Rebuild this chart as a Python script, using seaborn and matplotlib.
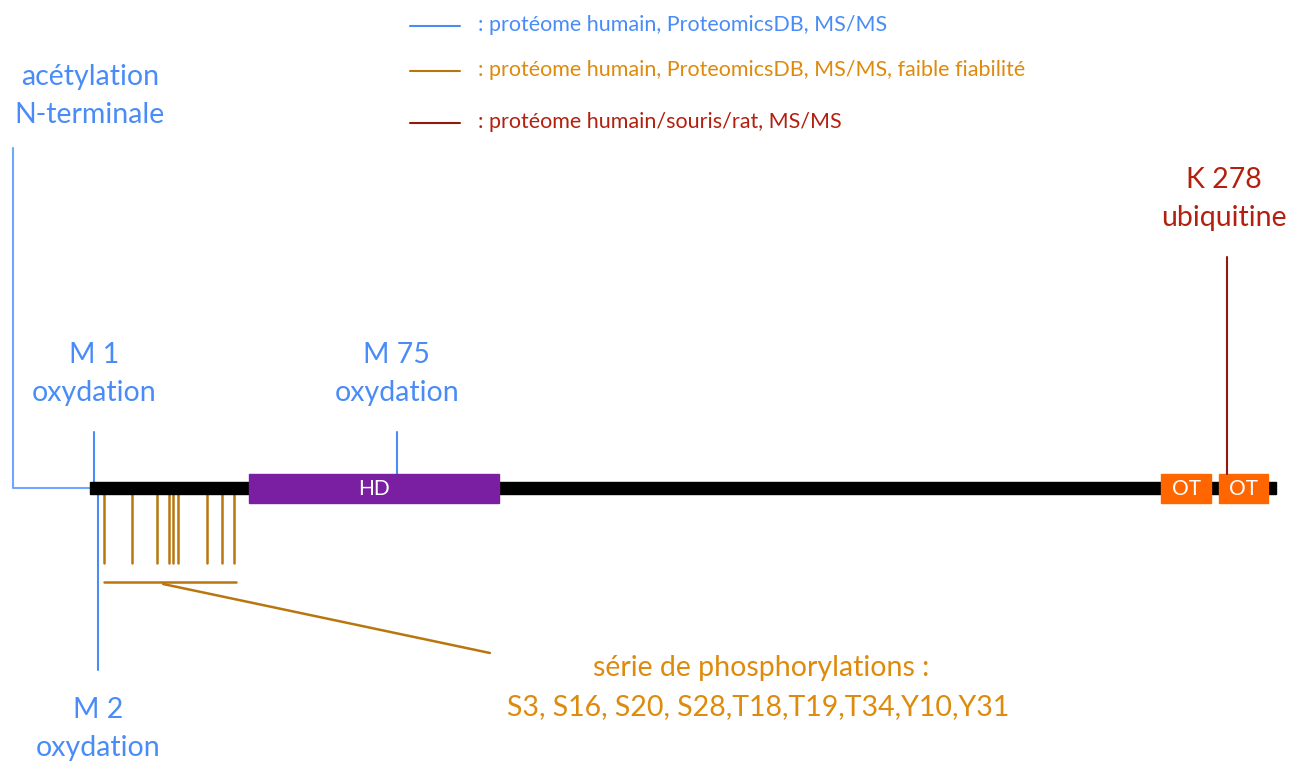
"""
Protein map: domains and post-translational modifications (PTM) along the sequence.
"""
import matplotlib
matplotlib.use("Agg")
import matplotlib.pyplot as plt
import seaborn as sns
from matplotlib.patches import Rectangle

# --- data (x in residues, y in figure rows from the top) ---
seq_start, seq_end = 0, 290
domain_names = ["HD", "OT", "OT"]
domain_start = [39, 262, 276]
domain_end = [100, 274, 288]
domain_colors = ["#7B1FA2", "#FF6600", "#FF6600"]

phospho_sites = ["S3", "S16", "S20", "S28", "T18", "T19", "T34", "Y10", "Y31"]
phospho_ticks = [3.4, 10.4, 16.4, 19.4, 20.4, 21.5, 28.6, 32.2, 35.3]  # drawn positions

blue_sites = [1, 75]          # oxidation above the bar
blue_site_low = 2             # oxidation below the bar
red_site = 278                # ubiquitination

legend_texts = [": protéome humain, ProteomicsDB, MS/MS",
                ": protéome humain, ProteomicsDB, MS/MS, faible fiabilité",
                ": protéome humain/souris/rat, MS/MS"]

BLUE, BLUE_LIGHT = "#4A8CF7", "#6FA6FF"
ORANGE_TXT, ORANGE_LN = "#DE8A0C", "#B9760F"
RED_TXT, RED_LN = "#B3200F", "#8C1A0E"
legend_line_colors = [BLUE, ORANGE_LN, RED_LN]
legend_text_colors = [BLUE, ORANGE_TXT, RED_TXT]

sns.set_theme(style="white")
plt.rcParams["font.family"] = ["Lato", "DejaVu Sans"]

fig = plt.figure(figsize=(12.94, 7.62), dpi=100)
ax = fig.add_axes([0, 0, 1, 1])
px = 4.09  # pixels per residue
ax.set_xlim(1 - 94 / px, 1 - 94 / px + 1294 / px)
ax.set_ylim(762, 0)
ax.axis("off")

fs = 20.5
bar_y = 488

# backbone
ax.add_patch(Rectangle((seq_start, bar_y - 6), seq_end - seq_start, 12, color="black", zorder=2))

# domains
for name, s, e, c in zip(domain_names, domain_start, domain_end, domain_colors):
    ax.add_patch(Rectangle((s, bar_y - 14.5), e - s, 29, color=c, zorder=3))
    ax.text((s + e) / 2, bar_y + 1, name, color="white", fontsize=15,
            ha="center", va="center", zorder=4)

# N-terminal acetylation
ax.plot([-18.8, -18.8, seq_start], [148, bar_y, bar_y], color=BLUE_LIGHT, lw=1.5, zorder=1)
ax.text(0, 77, "acétylation", color=BLUE, fontsize=fs, ha="center", va="center")
ax.text(0, 115, "N-terminale", color=BLUE, fontsize=fs, ha="center", va="center")

# oxidations above the bar
ax.plot([blue_sites[0]] * 2, [432, bar_y - 6], color=BLUE, lw=1.5, zorder=1)
ax.plot([blue_sites[1]] * 2, [432, bar_y - 14], color=BLUE, lw=1.5, zorder=1)
for r in blue_sites:
    ax.text(r, 355, f"M {r}", color=BLUE, fontsize=fs, ha="center", va="center")
    ax.text(r, 393, "oxydation", color=BLUE, fontsize=fs, ha="center", va="center")

# oxidation below the bar
ax.plot([blue_site_low] * 2, [bar_y + 6, 670], color=BLUE, lw=1.5, zorder=1)
ax.text(blue_site_low, 710, f"M {blue_site_low}", color=BLUE, fontsize=fs, ha="center", va="center")
ax.text(blue_site_low, 748, "oxydation", color=BLUE, fontsize=fs, ha="center", va="center")

# ubiquitination
ax.plot([red_site] * 2, [257, bar_y - 14], color=RED_LN, lw=1.5, zorder=5)
ax.text(red_site - 0.7, 180, f"K {red_site}", color=RED_TXT, fontsize=fs, ha="center", va="center")
ax.text(red_site - 0.7, 218, "ubiquitine", color=RED_TXT, fontsize=fs, ha="center", va="center")

# phosphorylation series
for r in phospho_ticks:
    ax.plot([r, r], [bar_y + 6, 563], color=ORANGE_LN, lw=1.8, zorder=1)
ax.plot([phospho_ticks[0], phospho_ticks[-1] + 0.4], [582, 582], color=ORANGE_LN, lw=1.8)
ax.plot([17.9, 97.8], [584, 653], color=ORANGE_LN, lw=1.8)
ax.text(164, 668, "série de phosphorylations :", color=ORANGE_TXT, fontsize=fs,
        ha="center", va="center")
ax.text(163.5, 707, ", ".join(phospho_sites).replace(", T", ",T").replace(", Y", ",Y"),
        color=ORANGE_TXT, fontsize=fs, ha="center", va="center")

# legend
for i, (txt, lc, tc) in enumerate(zip(legend_texts, legend_line_colors, legend_text_colors)):
    y = [26, 71, 123][i]
    ax.plot([78.3, 90.5], [y, y], color=lc, lw=1.5)
    ax.text(94.9, y - 1, txt, color=tc, fontsize=15.5, ha="left", va="center")

fig.savefig("out.png", dpi=100)
